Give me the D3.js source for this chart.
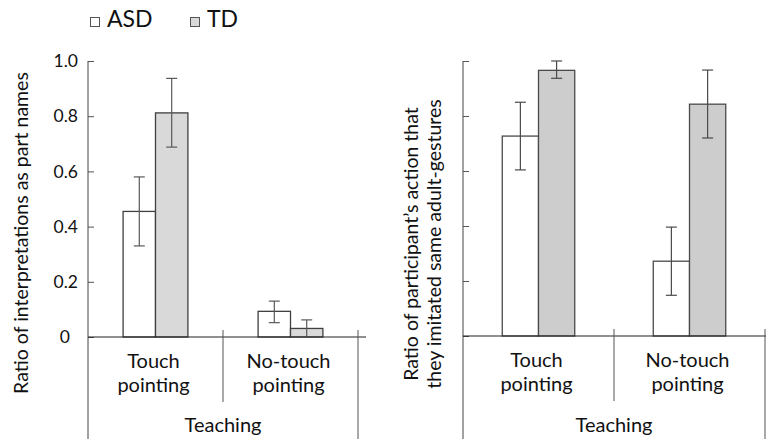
<!DOCTYPE html>
<html lang="en">
<head>
    <meta charset="UTF-8">
    <title>D3: ASD vs TD bars</title>
    <script src="https://d3js.org/d3.v7.min.js"></script>
    <style type="text/css">
        body { margin: 0; background: #fff; }
        text { font-family: Lato, "Open Sans", sans-serif; fill: #111; }
    </style>
</head>
    <body>
        <script type="text/javascript">

        //Width and height
        var w = 766;
        var h = 439;

        //Data
        var categories = ["Touch pointing", "No-touch pointing"];
        var groups = ["ASD", "TD"];
        var yTicks = [0, 0.2, 0.4, 0.6, 0.8, 1.0];

        //left panel: interpretations as part names
        var namesASD = [0.455, 0.093];
        var namesASDLo = [0.33, 0.052];
        var namesASDHi = [0.58, 0.13];
        var namesTD = [0.812, 0.031];
        var namesTDLo = [0.688, 0.0];
        var namesTDHi = [0.937, 0.062];

        //right panel: imitated same adult-gestures
        var imitASD = [0.727, 0.272];
        var imitASDLo = [0.604, 0.148];
        var imitASDHi = [0.85, 0.396];
        var imitTD = [0.966, 0.843];
        var imitTDLo = [0.937, 0.72];
        var imitTDHi = [1.0, 0.967];

        var svg = d3.select("body")
            .append("svg")
            .attr("width", w)
            .attr("height", h);

        function rows(asd, asdLo, asdHi, td, tdLo, tdHi) {
            var out = [];
            categories.forEach(function(c, i) {
                out.push({cat: c, grp: "ASD", v: asd[i], lo: asdLo[i], hi: asdHi[i]});
                out.push({cat: c, grp: "TD", v: td[i], lo: tdLo[i], hi: tdHi[i]});
            });
            return out;
        }

        function panel(opt) {
            var g = svg.append("g");

            var xScale = d3.scaleBand()
                .domain(categories)
                .range([opt.x0, opt.x1]);

            var inner = d3.scaleBand()
                .domain(groups)
                .range([0, xScale.bandwidth() * 0.48]);

            var yScale = d3.scaleLinear()
                .domain([0, 1])
                .range([opt.y0, opt.y1]);

            var off = (xScale.bandwidth() - inner.range()[1]) / 2;
            var data = rows.apply(null, opt.data);

            //bars
            g.selectAll("rect.bar")
                .data(data)
                .enter()
                .append("rect")
                .attr("class", "bar")
                .attr("x", function(d) { return xScale(d.cat) + off + inner(d.grp); })
                .attr("y", function(d) { return yScale(d.v); })
                .attr("width", inner.bandwidth())
                .attr("height", function(d) { return yScale(0) - yScale(d.v); })
                .attr("fill", function(d) { return d.grp == "TD" ? opt.grey : "#fff"; })
                .attr("stroke", opt.barStroke)
                .attr("stroke-width", 1.3);

            //error bars
            var cx = function(d) { return xScale(d.cat) + off + inner(d.grp) + inner.bandwidth() / 2; };
            g.selectAll("line.err")
                .data(data)
                .enter()
                .append("line")
                .attr("x1", cx).attr("x2", cx)
                .attr("y1", function(d) { return yScale(d.lo); })
                .attr("y2", function(d) { return yScale(d.hi); })
                .attr("stroke", opt.errStroke)
                .attr("stroke-width", 1.2);
            ["lo", "hi"].forEach(function(k) {
                g.selectAll("line.cap" + k)
                    .data(data.filter(function(d) { return d[k] > 0; }))
                    .enter()
                    .append("line")
                    .attr("x1", function(d) { return cx(d) - 5.5; })
                    .attr("x2", function(d) { return cx(d) + 5.5; })
                    .attr("y1", function(d) { return yScale(d[k]); })
                    .attr("y2", function(d) { return yScale(d[k]); })
                    .attr("stroke", opt.errStroke)
                    .attr("stroke-width", 1.2);
            });

            //y axis, ticks point inward
            var yAxis = d3.axisLeft(yScale)
                .tickValues(yTicks)
                .tickSizeInner(-6)
                .tickSizeOuter(0)
                .tickPadding(10)
                .tickFormat(function(d) {
                    if (!opt.labels) return "";
                    return d == 0 ? "0" : d3.format(".1f")(d);
                });
            var ya = g.append("g")
                .attr("transform", "translate(" + opt.x0 + ",0)")
                .call(yAxis);
            ya.select(".domain").remove();
            ya.selectAll(".tick line").attr("stroke", "#555");
            ya.selectAll(".tick text")
                .attr("font-size", "17.5px")
                .attr("font-family", "Lato, sans-serif")
                .attr("fill", "#111")
                .attr("dx", function(d) { return d == 0 ? -8 : 0; });

            //axis lines
            g.append("line")
                .attr("x1", opt.x0).attr("x2", opt.x0)
                .attr("y1", yScale(1)).attr("y2", h)
                .attr("stroke", "#444");
            g.append("line")
                .attr("x1", opt.x0).attr("x2", opt.xEnd)
                .attr("y1", yScale(0)).attr("y2", yScale(0))
                .attr("stroke", "#222").attr("stroke-width", 1.2);
            g.append("line")
                .attr("x1", xScale(categories[1])).attr("x2", xScale(categories[1]))
                .attr("y1", yScale(0) - 7).attr("y2", opt.y0 + 65)
                .attr("stroke", "#555");
            g.append("line")
                .attr("x1", opt.x1).attr("x2", opt.x1)
                .attr("y1", yScale(0) - 7).attr("y2", h)
                .attr("stroke", "#555");

            //category labels
            categories.forEach(function(c) {
                var parts = c.split(" ");
                var t = g.append("text")
                    .attr("text-anchor", "middle")
                    .attr("font-size", "20px");
                parts.forEach(function(p, i) {
                    t.append("tspan")
                        .attr("x", xScale(c) + xScale.bandwidth() / 2 - 2)
                        .attr("y", opt.y0 + 31 + i * 24)
                        .text(p);
                });
            });
            g.append("text")
                .attr("x", (opt.x0 + opt.x1) / 2)
                .attr("y", 432)
                .attr("text-anchor", "middle")
                .attr("font-size", "20px")
                .text("Teaching");

            //y title
            var tt = g.append("text")
                .attr("transform", "translate(" + opt.titleX + "," + opt.titleY + ") rotate(-90)")
                .attr("text-anchor", "middle")
                .attr("font-size", "19.5px");
            opt.title.forEach(function(line, i) {
                tt.append("tspan")
                    .attr("x", 0)
                    .attr("y", i * 23)
                    .text(line);
            });
        }

        panel({
            x0: 88, x1: 358, xEnd: 366, y0: 337, y1: 61,
            data: [namesASD, namesASDLo, namesASDHi, namesTD, namesTDLo, namesTDHi],
            grey: "#d9d9d9", barStroke: "#404040", errStroke: "#595959",
            labels: true,
            title: ["Ratio of interpretations as part names"],
            titleX: 28, titleY: 233
        });

        panel({
            x0: 463, x1: 765, xEnd: 766, y0: 336, y1: 61,
            data: [imitASD, imitASDLo, imitASDHi, imitTD, imitTDLo, imitTDHi],
            grey: "#cdcdcd", barStroke: "#4a4a4a", errStroke: "#4a4a4a",
            labels: false,
            title: ["Ratio of participant\u2019s action that", "they imitated same adult-gestures"],
            titleX: 418, titleY: 244
        });

        //legend
        var legendX = [90, 190];
        var legendFill = ["#fff", "#d9d9d9"];
        var lg = svg.append("g");
        groups.forEach(function(gname, i) {
            lg.append("rect")
                .attr("x", legendX[i] + 0.5).attr("y", 17.5)
                .attr("width", 9).attr("height", 9)
                .attr("fill", legendFill[i])
                .attr("stroke", "#555");
            lg.append("text")
                .attr("x", legendX[i] + 17)
                .attr("y", 27)
                .attr("font-size", "23px")
                .text(gname);
        });

        </script>
    </body>
</html>
